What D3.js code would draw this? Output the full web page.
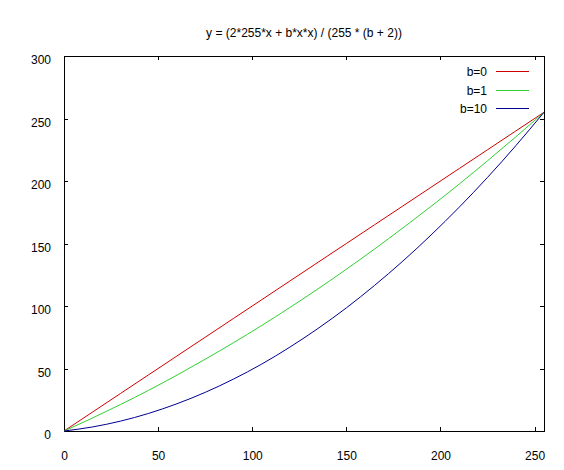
<!DOCTYPE html>
<html>
<head>
<meta charset="utf-8">
<script src="https://cdn.jsdelivr.net/npm/d3@7"></script>
<style>
  body { margin: 0; background: #fff; }
  text { font-family: "Liberation Sans", Arial, sans-serif; font-size: 12px; fill: #000; }
</style>
</head>
<body>
<div id="chart"></div>
<script>
// Data
var xValues = [0, 15, 30, 45, 60, 75, 90, 105, 120, 135, 150, 165, 180, 195, 210, 225, 240, 255];
var b0Values = [0, 15, 30, 45, 60, 75, 90, 105, 120, 135, 150, 165, 180, 195, 210, 225, 240, 255];
var b1Values = [0, 10.3, 21.2, 32.6, 44.7, 57.4, 70.6, 84.4, 98.8, 113.8, 129.4, 145.6, 162.4, 179.7, 197.6, 216.2, 235.3, 255];
var b10Values = [0, 3.2, 7.9, 14.1, 21.8, 30.9, 41.5, 53.5, 67.1, 82.1, 98.5, 116.5, 135.9, 156.8, 179.1, 202.9, 228.2, 255];
var seriesNames = ["b=0", "b=1", "b=10"];
var seriesColors = ["#d00000", "#30d030", "#000090"];
var xTicks = [0, 50, 100, 150, 200, 250];
var yTicks = [0, 50, 100, 150, 200, 250, 300];
var title = "y = (2*255*x + b*x*x) / (255 * (b + 2))";

var svgWidth = 564;
var svgHeight = 470;
var margin = { top: 56, right: 20, bottom: 39, left: 64 };
var width = svgWidth - margin.left - margin.right;
var height = svgHeight - margin.top - margin.bottom;

var svg = d3.select("#chart")
    .append("svg")
    .attr("width", svgWidth)
    .attr("height", svgHeight);

var chartGroup = svg.append("g")
    .attr("transform", `translate(${margin.left}, ${margin.top})`);

var xScale = d3.scaleLinear().domain([0, 255]).range([0, width]);
var yScale = d3.scaleLinear().domain([0, 300]).range([height, 0]);

// ticks on all four sides, pointing inward
function styleAxis(g) {
    g.select(".domain").remove();
    g.selectAll("line").attr("stroke", "#000").attr("shape-rendering", "crispEdges");
    g.selectAll("text").attr("font-size", null).attr("font-family", null).attr("fill", "#000");
}

chartGroup.append("g")
    .attr("transform", `translate(0, ${height})`)
    .call(d3.axisBottom(xScale).tickValues(xTicks).tickSizeInner(-4).tickPadding(20))
    .call(styleAxis);

chartGroup.append("g")
    .call(d3.axisTop(xScale).tickValues(xTicks).tickSizeInner(-4).tickFormat(""))
    .call(styleAxis);

chartGroup.append("g")
    .call(d3.axisLeft(yScale).tickValues(yTicks).tickSizeInner(-4).tickPadding(13))
    .call(styleAxis)
    .selectAll("text").attr("dy", "0.72em").attr("y", -1);

chartGroup.append("g")
    .attr("transform", `translate(${width}, 0)`)
    .call(d3.axisRight(yScale).tickValues(yTicks).tickSizeInner(-4).tickFormat(""))
    .call(styleAxis);

// frame
chartGroup.append("rect")
    .attr("x", 0.5)
    .attr("y", 0.5)
    .attr("width", width)
    .attr("height", height)
    .attr("fill", "none")
    .attr("stroke", "#000")
    .attr("shape-rendering", "crispEdges");

// curves
var allSeries = [b0Values, b1Values, b10Values];
var line = d3.line()
    .x((d, i) => xScale(xValues[i]))
    .y(d => yScale(d))
    .curve(d3.curveMonotoneX);

chartGroup.selectAll(".curve")
    .data(allSeries)
    .enter()
    .append("path")
    .attr("class", "curve")
    .attr("d", line)
    .attr("fill", "none")
    .attr("stroke", (d, i) => seriesColors[i])
    .attr("stroke-width", 1);

// legend
var legend = chartGroup.selectAll(".legend")
    .data(seriesNames)
    .enter()
    .append("g")
    .attr("class", "legend")
    .attr("transform", (d, i) => `translate(0, ${15 + i * 18.5})`);

legend.append("line")
    .attr("x1", 432)
    .attr("x2", 465)
    .attr("y1", 0.5)
    .attr("y2", 0.5)
    .attr("stroke", (d, i) => seriesColors[i])
    .attr("shape-rendering", "crispEdges");

legend.append("text")
    .attr("x", 423)
    .attr("y", 5)
    .attr("text-anchor", "end")
    .text(d => d);

// title
svg.append("text")
    .attr("x", 304)
    .attr("y", 37)
    .attr("text-anchor", "middle")
    .text(title);
</script>
</body>
</html>
